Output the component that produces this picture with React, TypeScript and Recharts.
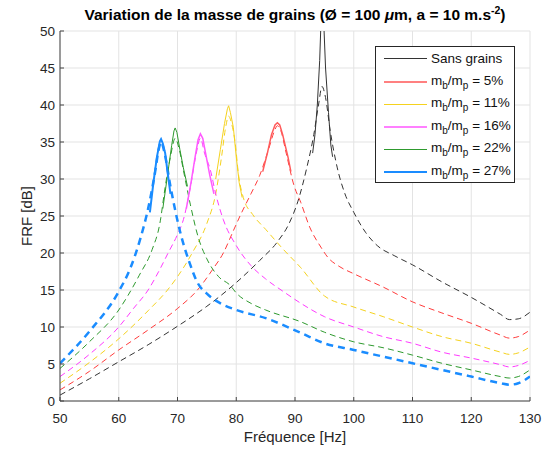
import { CartesianGrid, Line, LineChart, XAxis, YAxis } from "recharts";

if (typeof document !== "undefined") document.body.style.margin = "0";

const FONT = '"Liberation Sans", Arial, Helvetica, sans-serif';
const W = 552;
const H = 450;

const X_TICKS = [50, 60, 70, 80, 90, 100, 110, 120, 130];
const Y_TICKS = [0, 5, 10, 15, 20, 25, 30, 35, 40, 45, 50];

// modèle (tirets) + mesure (trait plein autour du pic)
const SANS_F = [50, 55, 60, 65, 70, 75, 80, 84, 87, 89, 90.5, 92, 93.2, 94, 94.6, 95.2, 96, 97.2, 98.5, 100, 102, 104, 107, 110, 115, 120, 125, 126.5, 128, 130];
const SANS_DB = [0.8, 3.0, 5.3, 7.6, 10.1, 12.8, 16, 19, 21.5, 24, 27, 31.5, 36, 40, 42.5, 41, 36.5, 31.5, 28, 25.5, 22.8, 21, 19.6, 18.4, 16.1, 14, 11.7, 11, 11.1, 12];
const SANS_EXP_F = [93, 93.4, 93.8, 94.2, 94.5, 94.8, 95.2, 95.7, 96.1, 96.4];
const SANS_EXP_DB = [33.5, 36, 40, 46, 53, 53, 45, 39, 34.6, 33];

const M5_F = [50, 55, 60, 65, 70, 73.4, 76, 77.8, 79.5, 80.7, 82.5, 84, 85.5, 86.5, 87, 87.6, 88.5, 89.8, 91, 92.5, 94.4, 95.6, 97.5, 100, 105, 110, 115, 120, 125, 126.5, 128, 130];
const M5_DB = [1.5, 4.0, 6.9, 9.6, 12.5, 15, 17.8, 20, 23, 25.1, 28, 30.5, 34, 36.5, 37.2, 36.5, 33.5, 29.2, 26.8, 23.5, 20.8, 19.4, 18.2, 17.2, 15.4, 13.4, 11.9, 10.5, 8.9, 8.5, 8.7, 9.6];
const M5_EXP_F = [84.5, 85.3, 86, 86.6, 87, 87.4, 87.9, 88.4, 88.8, 89.3];
const M5_EXP_DB = [31, 33.5, 36, 37.3, 37.6, 37.3, 36, 34.3, 33, 31];

const M11_F = [50, 55, 60, 65, 68.3, 70, 72.5, 75, 76.5, 77.5, 78.2, 78.7, 79.2, 79.8, 80.4, 81.2, 82.8, 85, 88, 91, 95, 100, 105, 110, 115, 120, 125, 126.5, 128, 130];
const M11_DB = [2.4, 5.2, 8.4, 12.2, 15, 16.8, 20, 24, 28, 33, 37, 38.5, 37.5, 35, 30.5, 27.5, 25.2, 23.2, 20.5, 18, 14.2, 12.7, 11.4, 10, 8.7, 7.8, 6.6, 6.3, 6.5, 7.3];
const M11_EXP_F = [76.5, 77.3, 78, 78.5, 78.7, 79, 79.5, 80, 80.5, 81];
const M11_EXP_DB = [30, 34, 37.5, 39.5, 39.9, 39, 37, 33, 29.5, 27.5];

const M16_F = [50, 55, 60, 62.5, 65, 66.8, 68.4, 70, 71, 72.2, 73.2, 73.9, 74.6, 75.6, 76.5, 77.8, 80, 82.5, 85, 88, 91, 95, 100, 105, 110, 115, 120, 125, 126.5, 128, 130];
const M16_DB = [3.3, 6.3, 10, 12.5, 15, 17.5, 20, 22.5, 24.5, 28.9, 33.5, 35.5, 33.5, 31.2, 28, 24.5, 21, 18.3, 16.5, 14.8, 13.2, 11.4, 10, 8.7, 7.8, 6.6, 5.8, 4.9, 4.6, 4.8, 5.5];
const M16_EXP_F = [71.5, 72.3, 73, 73.5, 73.9, 74.3, 74.9, 75.5, 76.2];
const M16_EXP_DB = [26, 29.5, 33, 35.3, 36.1, 35.5, 33, 30.5, 28];

const M22_F = [50, 55, 60, 61.6, 63.5, 65.7, 67, 67.9, 68.8, 69.6, 70.3, 71, 72.2, 73.5, 75, 77, 79, 80, 82.5, 85, 91, 95, 100, 105, 110, 115, 120, 125, 126.5, 128, 130];
const M22_DB = [4.4, 8.0, 12.3, 14.3, 17, 20.5, 24, 28.9, 33, 35.5, 34, 31.2, 26.5, 22.2, 19.2, 16.8, 15.6, 14.6, 13.2, 12.3, 10.7, 9.3, 8, 7.2, 6.2, 5.1, 4.2, 3.3, 3.1, 3.3, 4.2];
const M22_EXP_F = [67.5, 68.3, 69, 69.4, 69.6, 69.9, 70.4, 71, 71.7];
const M22_EXP_DB = [26, 30.5, 34.5, 36.5, 36.9, 36.3, 34, 31.5, 29];

const M27_F = [50, 55, 60, 62, 63.7, 65, 66.2, 66.8, 67.2, 67.8, 68.8, 70.5, 72, 73.4, 75, 77.3, 80, 85, 91, 95, 100, 105, 110, 115, 120, 125, 126.5, 128, 130];
const M27_DB = [5.1, 9.4, 14.8, 18, 22, 26, 31, 34, 35, 33.5, 29, 22.7, 18.8, 16, 14.5, 13.2, 12.3, 11.2, 9.2, 7.8, 6.9, 6.0, 5.1, 4.2, 3.3, 2.4, 2.2, 2.4, 3.3];
const M27_EXP_F = [65.3, 65.9, 66.5, 67, 67.2, 67.5, 67.9, 68.3, 68.8];
const M27_EXP_DB = [25.5, 29.5, 33, 35.1, 35.4, 34.8, 33.5, 31, 28];

const zip = (f: number[], db: number[]) => f.map((x, i) => ({ f: x, db: db[i] }));

type Serie = {
  key: string;
  ratio: string | null;
  color: string;
  expColor: string;
  legendColor: string;
  width: number;
  expWidth: number;
  legendWidth: number;
  dash: string;
  model: { f: number; db: number }[];
  exp: { f: number; db: number }[];
};

const SERIES: Serie[] = [
  { key: "sans", ratio: null, color: "#333333", expColor: "#333333", legendColor: "#333333", width: 1, expWidth: 1, legendWidth: 1, dash: "6 4", model: zip(SANS_F, SANS_DB), exp: zip(SANS_EXP_F, SANS_EXP_DB) },
  { key: "m5", ratio: "5%", color: "#ff3b3b", expColor: "#ff5a5a", legendColor: "#ff8080", width: 1, expWidth: 1.5, legendWidth: 2, dash: "6 4", model: zip(M5_F, M5_DB), exp: zip(M5_EXP_F, M5_EXP_DB) },
  { key: "m11", ratio: "11%", color: "#f5d21e", expColor: "#f5d21e", legendColor: "#f5d21e", width: 1, expWidth: 1, legendWidth: 1, dash: "6 4", model: zip(M11_F, M11_DB), exp: zip(M11_EXP_F, M11_EXP_DB) },
  { key: "m16", ratio: "16%", color: "#ff3bff", expColor: "#ff5aff", legendColor: "#ff80ff", width: 1, expWidth: 1.5, legendWidth: 2, dash: "6 4", model: zip(M16_F, M16_DB), exp: zip(M16_EXP_F, M16_EXP_DB) },
  { key: "m22", ratio: "22%", color: "#2e9a2e", expColor: "#2e9a2e", legendColor: "#2e9a2e", width: 1, expWidth: 1, legendWidth: 1, dash: "6 4", model: zip(M22_F, M22_DB), exp: zip(M22_EXP_F, M22_EXP_DB) },
  { key: "m27", ratio: "27%", color: "#1a8cff", expColor: "#1a8cff", legendColor: "#1a8cff", width: 2.5, expWidth: 2, legendWidth: 2.5, dash: "7 5", model: zip(M27_F, M27_DB), exp: zip(M27_EXP_F, M27_EXP_DB) },
];

const tickStyle = { fill: "#262626", fontSize: 13.5, fontFamily: FONT };
const blank = () => "";
const subStyle = { fontSize: 10, verticalAlign: -4 };

function LegendBox() {
  return (
    <div
      style={{
        position: "absolute",
        left: 375,
        top: 46,
        width: 140,
        height: 137,
        border: "1px solid #262626",
        background: "#fff",
        fontFamily: FONT,
        fontSize: 13.5,
        color: "#111",
        boxSizing: "border-box",
      }}
    >
      {SERIES.map((s, i) => (
        <div
          key={s.key}
          style={{
            position: "absolute",
            left: 8,
            top: i === 0 ? 2 : 3 + i * 22.6,
            height: 18,
            display: "flex",
            alignItems: "center",
            whiteSpace: "nowrap",
          }}
        >
          <span
            style={{
              display: "inline-block",
              width: 43,
              height: s.legendWidth,
              background: s.legendColor,
              marginRight: 4,
            }}
          />
          {s.ratio === null ? (
            <span>Sans grains</span>
          ) : (
            <span>
              m<sub style={subStyle}>b</sub>/m<sub style={subStyle}>p</sub> = {s.ratio}
            </span>
          )}
        </div>
      ))}
    </div>
  );
}

export default function App() {
  return (
    <div style={{ position: "relative", width: W, height: H, background: "#fff", fontFamily: FONT }}>
      <div
        style={{
          position: "absolute",
          left: 0,
          width: 590,
          top: 4,
          textAlign: "center",
          fontWeight: "bold",
          fontSize: 15.5,
          color: "#000",
          whiteSpace: "nowrap",
        }}
      >
        Variation de la masse de grains (Ø = 100 <i>μ</i>m, a = 10 m.s
        <sup style={{ fontSize: 10.5 }}>-2</sup>)
      </div>

      <LineChart width={W} height={H} margin={{ top: 31, right: 22, bottom: 0, left: 0 }}>
        <CartesianGrid stroke="#e3e3e3" strokeWidth={1} xAxisId="b" yAxisId="l" />
        <XAxis
          xAxisId="b"
          dataKey="f"
          type="number"
          domain={[50, 130]}
          ticks={X_TICKS}
          allowDataOverflow
          height={49}
          stroke="#444"
          tickSize={-4}
          tickMargin={16}
          tick={tickStyle}
        />
        <XAxis
          xAxisId="t"
          orientation="top"
          type="number"
          domain={[50, 130]}
          ticks={X_TICKS}
          height={0}
          stroke="#444"
          tickSize={-4}
          tickFormatter={blank}
        />
        <YAxis
          yAxisId="l"
          type="number"
          domain={[0, 50]}
          ticks={Y_TICKS}
          allowDataOverflow
          width={60}
          stroke="#444"
          tickSize={-4}
          tickMargin={9}
          tick={tickStyle}
        />
        <YAxis
          yAxisId="r"
          orientation="right"
          type="number"
          domain={[0, 50]}
          ticks={Y_TICKS}
          width={0}
          stroke="#444"
          tickSize={-4}
          tickFormatter={blank}
        />
        {SERIES.map((s) => (
          <Line
            key={s.key + "-model"}
            xAxisId="b"
            yAxisId="l"
            data={s.model}
            dataKey="db"
            type="monotone"
            stroke={s.color}
            strokeWidth={s.width}
            strokeDasharray={s.dash}
            dot={false}
            activeDot={false}
            isAnimationActive={false}
          />
        ))}
        {SERIES.map((s) => (
          <Line
            key={s.key + "-exp"}
            xAxisId="b"
            yAxisId="l"
            data={s.exp}
            dataKey="db"
            type="linear"
            stroke={s.expColor}
            strokeWidth={s.expWidth}
            dot={false}
            activeDot={false}
            isAnimationActive={false}
          />
        ))}
      </LineChart>

      <LegendBox />

      <div
        style={{
          position: "absolute",
          left: 26,
          top: 216,
          transform: "translate(-50%, -50%) rotate(-90deg)",
          fontSize: 15,
          color: "#262626",
          whiteSpace: "nowrap",
        }}
      >
        FRF [dB]
      </div>
      <div
        style={{
          position: "absolute",
          left: 0,
          width: 590,
          top: 428,
          textAlign: "center",
          fontSize: 15,
          color: "#262626",
          whiteSpace: "nowrap",
        }}
      >
        Fréquence [Hz]
      </div>
    </div>
  );
}
